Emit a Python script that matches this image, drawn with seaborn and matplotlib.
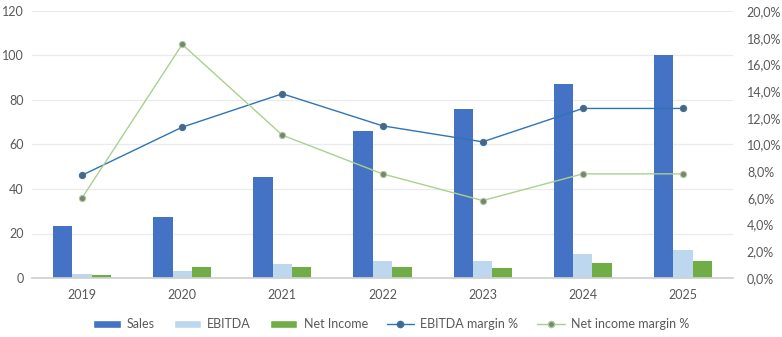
import numpy as np
import pandas as pd
import matplotlib
matplotlib.use("Agg")
import matplotlib.pyplot as plt
import seaborn as sns
from matplotlib.patches import Patch
from matplotlib.lines import Line2D
from matplotlib.ticker import FuncFormatter, MultipleLocator

years = ["2019", "2020", "2021", "2022", "2023", "2024", "2025"]
sales = [23.4, 27.4, 45.4, 66.1, 76.0, 87.2, 100.2]
ebitda = [1.8, 3.1, 6.3, 7.6, 7.6, 10.8, 12.6]
net_income = [1.3, 4.9, 4.9, 4.9, 4.5, 6.7, 7.6]
ebitda_margin = [7.7, 11.3, 13.8, 11.4, 10.2, 12.7, 12.7]
ni_margin = [6.0, 17.5, 10.7, 7.8, 5.8, 7.8, 7.8]

sns.set_theme(style="white")
plt.rcParams["font.family"] = ["Lato", "DejaVu Sans"]

c_sales = "#4472C4"
c_ebitda = "#BDD7EE"
c_ni = "#70AD47"
c_em = "#2E75B6"
c_nm = "#A9D18E"
txt = "#595959"

bars = pd.DataFrame({
    "year": years * 3,
    "value": sales + ebitda + net_income,
    "series": ["Sales"] * 7 + ["EBITDA"] * 7 + ["Net Income"] * 7,
})
lines = pd.DataFrame({"year": years, "em": ebitda_margin, "nm": ni_margin})

fig = plt.figure(figsize=(7.82, 3.37), dpi=100)
ax = fig.add_axes([32 / 782, 1 - 278 / 337, (733 - 32) / 782, (278 - 11) / 337])
sns.barplot(data=bars, x="year", y="value", hue="series",
            palette=[c_sales, c_ebitda, c_ni], width=0.58, gap=0,
            saturation=1, ax=ax, legend=False, linewidth=0, edgecolor="none")
ax.set_ylim(0, 120)
ax.yaxis.set_major_locator(MultipleLocator(20))
ax.set_xlim(-0.5, 6.5)
ax.grid(axis="y", color="#EBEBEB", linewidth=0.9)
ax.set_axisbelow(True)
for s in ["top", "right", "left"]:
    ax.spines[s].set_visible(False)
ax.spines["bottom"].set_color("#D0D0D0")
ax.set_xlabel("")
ax.set_ylabel("")
ax.tick_params(axis="both", colors=txt, labelsize=9, length=0, pad=8)
ax.tick_params(axis="y", pad=6)

ax2 = ax.twinx()
sns.pointplot(data=lines, x="year", y="em", color=c_em, errorbar=None,
              markers="o", linewidth=1.0, markersize=4.5,
              markerfacecolor="#5A6270", markeredgecolor=c_em, ax=ax2)
sns.pointplot(data=lines, x="year", y="nm", color=c_nm, errorbar=None,
              markers="o", linewidth=1.0, markersize=4.5,
              markerfacecolor="#7F7F7F", markeredgecolor=c_nm, ax=ax2)
ax2.set_ylim(0, 20)
ax2.set_xlim(-0.5, 6.5)
ax2.yaxis.set_major_locator(MultipleLocator(2))
ax2.yaxis.set_major_formatter(FuncFormatter(lambda v, p: f"{v:.1f}%".replace(".", ",")))
for s in ["top", "right", "left", "bottom"]:
    ax2.spines[s].set_visible(False)
ax2.set_ylabel("")
ax2.set_xlabel("")
ax2.grid(False)
ax2.tick_params(axis="y", colors=txt, labelsize=9, length=0, pad=10)

handles = [
    Patch(facecolor=c_sales, label="Sales"),
    Patch(facecolor=c_ebitda, label="EBITDA"),
    Patch(facecolor=c_ni, label="Net Income"),
    Line2D([], [], color=c_em, lw=1.0, marker="o", markersize=4.5,
           markerfacecolor="#5A6270", markeredgecolor=c_em, label="EBITDA margin %"),
    Line2D([], [], color=c_nm, lw=1.0, marker="o", markersize=4.5,
           markerfacecolor="#7F7F7F", markeredgecolor=c_nm, label="Net income margin %"),
]
leg = fig.legend(handles=handles, loc="center", bbox_to_anchor=(0.5, 1 - 324 / 337),
                 ncol=5, frameon=False, fontsize=9, handlelength=2.2,
                 handleheight=0.6, columnspacing=1.5, handletextpad=0.5)
for t in leg.get_texts():
    t.set_color(txt)

fig.savefig("out.png", dpi=100)
